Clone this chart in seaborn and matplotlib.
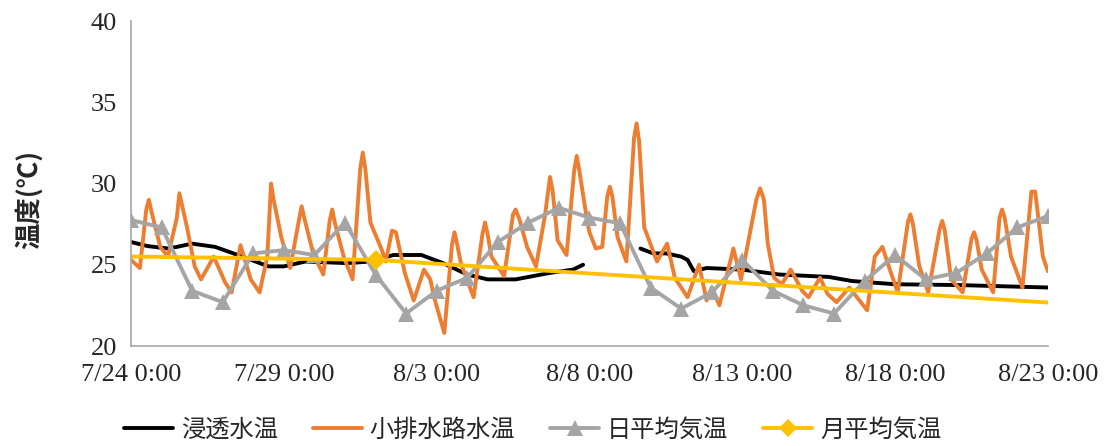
import matplotlib
matplotlib.use("Agg")
import matplotlib.pyplot as plt
import matplotlib.dates as mdates
from matplotlib.ticker import FuncFormatter, MultipleLocator
import numpy as np
import pandas as pd
import seaborn as sns

# ---- data -------------------------------------------------------------
start = pd.Timestamp("2015-07-24 00:00")
end = pd.Timestamp("2015-08-23 00:00")

# infiltration water temperature (hours since start, degC); two logger runs
seep_hours_1 = [0, 13, 29, 36, 48, 66, 84, 108, 120, 137, 170, 188, 206, 228,
                245, 264, 280, 302, 329, 347, 355]
seep_temp_1 = [26.4, 26.15, 26.0, 26.1, 26.3, 26.1, 25.6, 24.9, 24.9, 25.2,
               25.1, 25.2, 25.6, 25.6, 25.1, 24.4, 24.1, 24.1, 24.5, 24.7, 25.0]
seep_hours_2 = [400, 410, 420, 432, 437, 442, 452, 480, 509, 548, 566, 600,
                650, 720]
seep_temp_2 = [26.0, 25.7, 25.7, 25.5, 25.3, 24.6, 24.8, 24.7, 24.4, 24.25,
               24.0, 23.8, 23.75, 23.6]

# small drainage channel water temperature
drain_hours = [0, 7, 12, 14, 16, 23, 29, 36, 38, 44, 50, 55, 65, 74, 79, 86,
               94, 101, 107, 110, 112, 118, 125, 132, 134, 136, 143, 151, 156,
               158, 160, 167, 174, 180, 182, 184, 188, 197, 200, 205, 208, 215,
               222, 230, 235, 238, 246, 252, 254, 256, 259, 269, 276, 278, 280,
               283, 293, 300, 302, 305, 311, 318, 325, 329, 331, 335, 342, 348,
               350, 352, 358, 360, 365, 370, 374, 376, 378, 382, 389, 395, 397,
               399, 403, 413, 421, 427, 437, 446, 452, 456, 462, 473, 479, 491,
               494, 497, 500, 505, 511, 518, 527, 532, 541, 547, 554, 564, 578,
               584, 590, 595, 602, 610, 612, 614, 619, 626, 635, 637, 639, 644,
               653, 660, 662, 664, 668, 677, 682, 684, 686, 691, 700, 707, 710,
               716, 720]
drain_temp = [25.3, 24.8, 28.4, 29.0, 28.3, 26.1, 25.5, 27.9, 29.4, 27.3, 24.9,
              24.1, 25.5, 23.9, 23.3, 26.2, 24.1, 23.3, 25.5, 30.0, 29.0, 26.7,
              24.8, 27.8, 28.6, 27.9, 25.7, 24.4, 27.7, 28.4, 27.6, 25.5, 24.1,
              30.9, 31.9, 30.9, 27.6, 25.9, 25.2, 27.1, 27.0, 24.5, 22.8, 24.7,
              24.1, 23.0, 20.8, 26.2, 27.0, 26.3, 25.1, 23.0, 26.9, 27.6, 26.9,
              25.5, 24.3, 28.1, 28.4, 27.8, 26.1, 24.9, 28.0, 30.4, 29.6, 26.5,
              25.6, 30.8, 31.7, 30.8, 27.8, 27.0, 26.0, 26.1, 29.2, 29.8, 29.2,
              26.7, 25.2, 32.8, 33.7, 32.6, 27.3, 25.2, 26.3, 24.2, 23.0, 25.0,
              22.8, 23.6, 22.5, 26.0, 24.1, 29.0, 29.7, 29.0, 26.3, 24.2, 23.8,
              24.7, 23.4, 23.0, 24.2, 23.2, 22.7, 23.6, 22.2, 25.5, 26.1, 24.9,
              23.3, 27.6, 28.1, 27.5, 24.9, 23.3, 27.2, 27.7, 27.1, 24.1, 23.3,
              26.6, 27.0, 26.5, 24.7, 23.3, 27.9, 28.4, 27.9, 25.5, 23.6, 29.5,
              29.5, 25.5, 24.6]

# daily mean air temperature (one value per day, 7/24 .. 8/23)
daily_air = [27.75, 27.3, 23.4, 22.7, 25.7, 25.9, 25.6, 27.6, 24.4, 22.0, 23.4,
             24.2, 26.4, 27.6, 28.5, 27.9, 27.55, 23.6, 22.3, 23.3, 25.3, 23.4,
             22.5, 22.0, 24.0, 25.6, 24.1, 24.5, 25.7, 27.3, 28.0]

# monthly mean air temperature
monthly_dates = ["2015-07-01", "2015-08-01", "2015-09-01"]
monthly_air = [26.1, 25.3, 21.6]

# labels
legend_labels = ["浸透水温", "小排水路水温", "日平均気温", "月平均気温"]
y_label = "温度(℃)"

# ---- frames -----------------------------------------------------------
seep = pd.DataFrame({
    "time": start + pd.to_timedelta(seep_hours_1 + seep_hours_2, unit="h"),
    "temp": seep_temp_1 + seep_temp_2,
    "run": [1] * len(seep_hours_1) + [2] * len(seep_hours_2),
})
drain = pd.DataFrame({
    "time": start + pd.to_timedelta(drain_hours, unit="h"),
    "temp": drain_temp,
})
daily = pd.DataFrame({
    "time": pd.date_range(start, periods=len(daily_air), freq="D"),
    "temp": daily_air,
})
monthly = pd.DataFrame({"time": pd.to_datetime(monthly_dates), "temp": monthly_air})

# ---- plot -------------------------------------------------------------
sns.set_theme(style="white")
serif = "Liberation Serif"
cjk = ["Noto Sans CJK JP", "DejaVu Sans"]

fig = plt.figure(figsize=(11.12, 4.46), dpi=100)
ax = fig.add_axes([0.1178, 0.2242, 0.8246, 0.7287])

c_black, c_orange, c_gray, c_yellow = "#000000", "#ED7D31", "#A5A5A5", "#FFC000"
lw = 2.8

sns.lineplot(data=seep, x="time", y="temp", units="run", estimator=None,
             color=c_black, lw=lw, ax=ax, solid_joinstyle="round")
sns.lineplot(data=drain, x="time", y="temp", color=c_orange, lw=lw, ax=ax,
             solid_joinstyle="round")
sns.lineplot(data=daily, x="time", y="temp", color=c_gray, lw=lw, marker="^",
             markersize=11, markeredgewidth=0, ax=ax)
sns.lineplot(data=monthly, x="time", y="temp", color=c_yellow, lw=lw,
             marker="D", markersize=10, markeredgewidth=0, ax=ax)

ax.set_xlim(start, end)
ax.set_ylim(20, 40)
ax.yaxis.set_major_locator(MultipleLocator(5))
ax.set_xticks(pd.date_range(start, end, freq="5D"))
ax.xaxis.set_major_formatter(FuncFormatter(
    lambda v, _: f"{mdates.num2date(v).month}/{mdates.num2date(v).day} 0:00"))

for side in ("top", "right"):
    ax.spines[side].set_visible(False)
for side in ("left", "bottom"):
    ax.spines[side].set_color("#A6A6A6")
    ax.spines[side].set_linewidth(1.2)
ax.tick_params(axis="both", which="major", direction="out", length=6,
               width=1.2, color="#A6A6A6", labelsize=19, pad=4)
ax.tick_params(axis="x", pad=7)
for lab in ax.get_xticklabels() + ax.get_yticklabels():
    lab.set_fontfamily(serif)
    lab.set_color("#262626")

ax.set_xlabel("")
ax.set_ylabel(y_label, fontsize=19, fontweight="bold", family=cjk)
ax.yaxis.set_label_coords(-0.096, 0.45)

handles = [
    plt.Line2D([], [], color=c_black, lw=lw),
    plt.Line2D([], [], color=c_orange, lw=lw),
    plt.Line2D([], [], color=c_gray, lw=lw, marker="^", markersize=11, markeredgewidth=0),
    plt.Line2D([], [], color=c_yellow, lw=lw, marker="D", markersize=9, markeredgewidth=0),
]
leg = fig.legend(handles, legend_labels, loc="center", bbox_to_anchor=(0.479, 0.036),
                 ncol=4, frameon=False, handlelength=2.0, handletextpad=0.33,
                 columnspacing=1.45, prop={"family": cjk, "size": 17.5})

fig.savefig("out.png", dpi=100)
